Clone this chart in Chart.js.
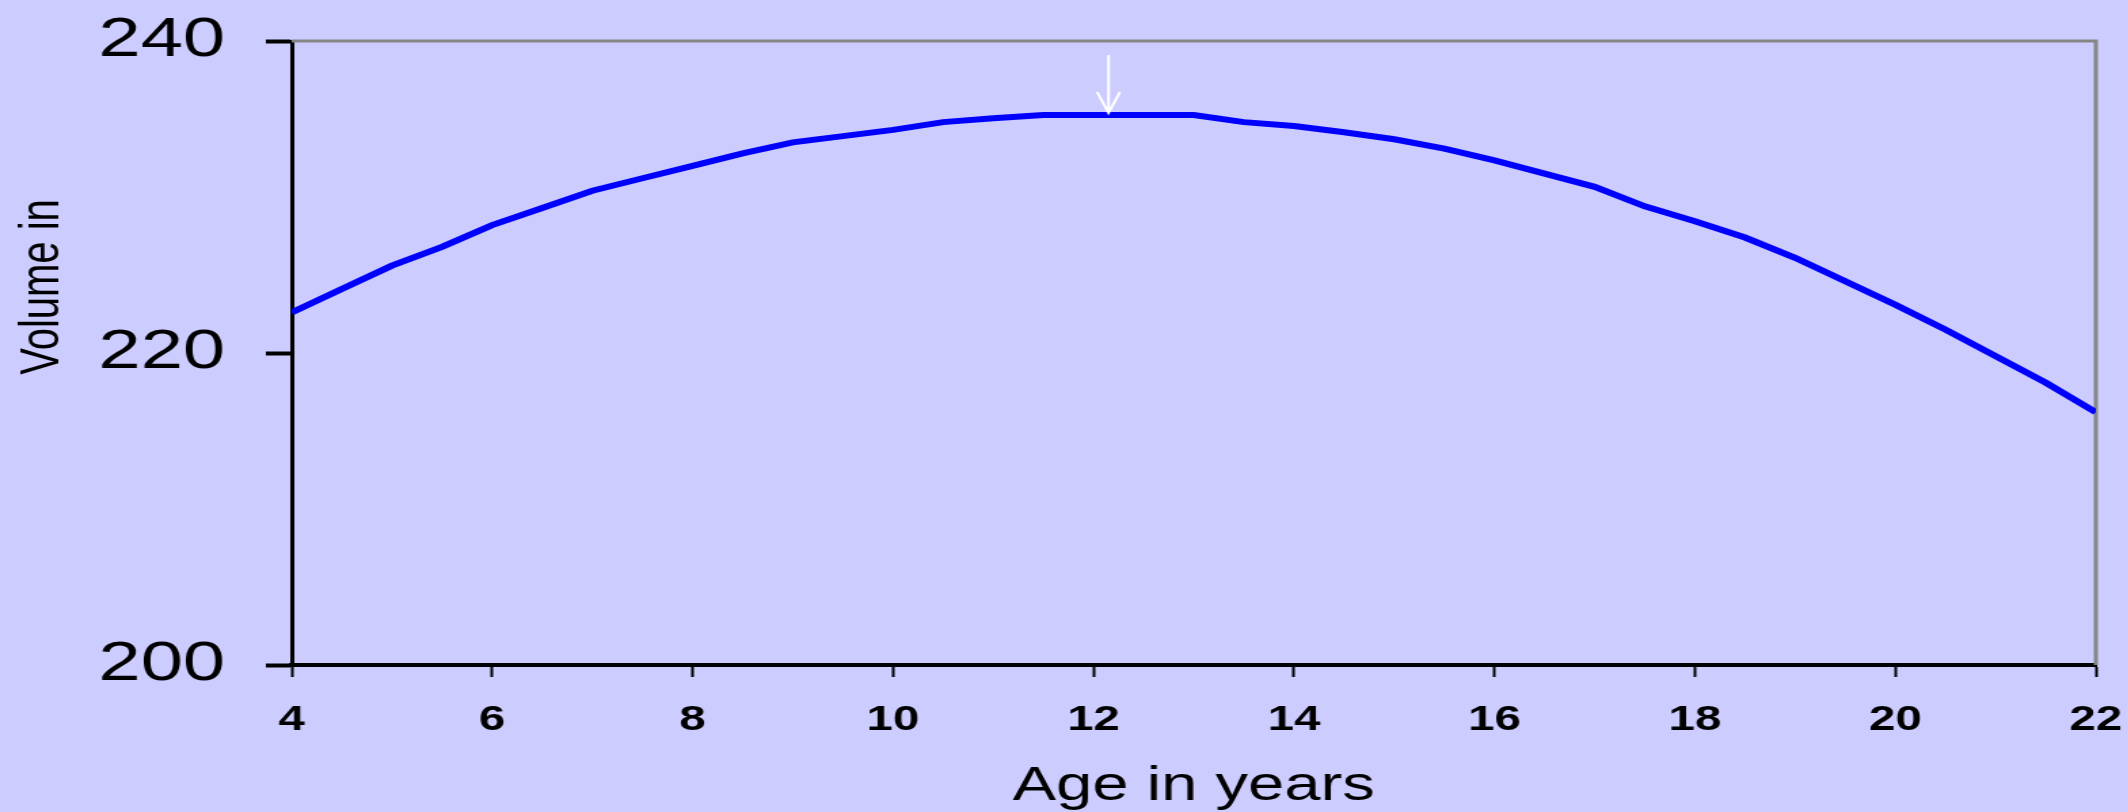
<!DOCTYPE html>
<html>
<head>
<meta charset="utf-8">
<script src="https://cdn.jsdelivr.net/npm/chart.js@4"></script>
<style>
html, body { margin: 0; padding: 0; background: #ccccff; overflow: hidden; }
#wrap { width: 1568px; height: 812px; transform: scaleX(1.35651); transform-origin: 0 0; }
</style>
</head>
<body>
<div id="wrap"><canvas id="chart" width="1568" height="812"></canvas></div>
<script>
var ages = [4, 4.5, 5, 5.5, 6, 6.5, 7, 7.5, 8, 8.5, 9, 9.5, 10, 10.5, 11, 11.5, 12, 12.5, 13,
	13.5, 14, 14.5, 15, 15.5, 16, 16.5, 17, 17.5, 18, 18.5, 19, 19.5, 20, 20.5, 21, 21.5, 22];
var volumes = [222.6, 224.1, 225.6, 226.8, 228.2, 229.3, 230.4, 231.2, 232.0, 232.8, 233.5, 233.9,
	234.3, 234.8, 235.05, 235.25, 235.25, 235.25, 235.25, 234.8, 234.55, 234.15, 233.7, 233.1,
	232.35, 231.5, 230.65, 229.4, 228.45, 227.4, 226.1, 224.6, 223.1, 221.5, 219.8, 218.1, 216.2];
var xTicks = [4, 6, 8, 10, 12, 14, 16, 18, 20, 22];
var yTicks = [200, 220, 240];
var xTitle = 'Age in years';
var yTitle = 'Volume in';
// white arrow marking the peak
var arrowAge = 12.15;
var arrowFrom = 239.1;
var arrowTo = 235.4;

var points = [];
for (var i = 0; i < ages.length; i++) {
	points.push({x: ages[i], y: volumes[i]});
}

var framePlugin = {
	id: 'frame',
	beforeDatasetsDraw: function(chart) {
		var ctx = chart.ctx;
		var a = chart.chartArea;
		ctx.save();
		ctx.strokeStyle = '#858585';
		ctx.lineWidth = 3;
		ctx.beginPath();
		ctx.moveTo(a.left, a.top);
		ctx.lineTo(a.right, a.top);
		ctx.lineTo(a.right, a.bottom);
		ctx.stroke();
		ctx.restore();
	},
	afterDatasetsDraw: function(chart) {
		var ctx = chart.ctx;
		var x = chart.scales.x.getPixelForValue(arrowAge);
		var y1 = chart.scales.y.getPixelForValue(arrowFrom);
		var y2 = chart.scales.y.getPixelForValue(arrowTo);
		ctx.save();
		ctx.strokeStyle = '#ffffff';
		ctx.lineWidth = 2;
		ctx.beginPath();
		ctx.moveTo(x, y1);
		ctx.lineTo(x, y2);
		ctx.moveTo(x - 8.5, y2 - 21);
		ctx.lineTo(x, y2);
		ctx.lineTo(x + 8.5, y2 - 21);
		ctx.stroke();

		// y title sits above the axis middle, so it is drawn here
		ctx.fillStyle = '#000000';
		ctx.font = '40px "Liberation Sans", Arial, sans-serif';
		ctx.textAlign = 'center';
		ctx.textBaseline = 'middle';
		ctx.translate(32, 287);
		ctx.rotate(-Math.PI / 2);
		ctx.fillText(yTitle, 0, 0);
		ctx.restore();
	}
};

var ctx = document.getElementById('chart').getContext('2d');
var myChart = new Chart(ctx, {
	type: 'line',
	data: {
		datasets: [{
			data: points,
			borderColor: '#0000ff',
			borderWidth: 6,
			pointRadius: 0,
			tension: 0,
			fill: false
		}]
	},
	options: {
		responsive: false,
		animation: false,
		devicePixelRatio: 1,
		layout: {padding: {left: 0, top: 41, right: 23, bottom: 0}},
		plugins: {legend: {display: false}, tooltip: {enabled: false}},
		scales: {
			x: {
				type: 'linear',
				min: xTicks[0],
				max: xTicks[xTicks.length - 1],
				afterBuildTicks: function(scale) {
					scale.ticks = xTicks.map(function(v) { return {value: v}; });
				},
				afterFit: function(scale) {
					scale.height = 147;
					scale.paddingLeft = 0;
					scale.paddingRight = 0;
				},
				border: {display: true, color: '#000000', width: 4},
				grid: {drawOnChartArea: false, drawTicks: true, tickLength: 12, tickColor: '#000000', tickWidth: 2},
				ticks: {
					color: '#000000',
					padding: 22,
					maxRotation: 0,
					autoSkip: false,
					font: {family: '"Liberation Sans", Arial, sans-serif', size: 35, weight: 'bold'}
				},
				title: {
					display: true,
					text: xTitle,
					color: '#000000',
					padding: {top: 0, bottom: 1},
					font: {family: '"Liberation Sans", Arial, sans-serif', size: 48, lineHeight: 1}
				}
			},
			y: {
				min: yTicks[0],
				max: yTicks[yTicks.length - 1],
				afterBuildTicks: function(scale) {
					scale.ticks = yTicks.map(function(v) { return {value: v}; });
				},
				afterFit: function(scale) {
					scale.width = 215;
					scale.paddingTop = 0;
					scale.paddingBottom = 0;
				},
				border: {display: true, color: '#000000', width: 3},
				grid: {drawOnChartArea: false, drawTicks: true, tickLength: 19, tickColor: '#000000', tickWidth: 4},
				ticks: {
					color: '#000000',
					padding: 30,
					autoSkip: false,
					font: {family: '"Liberation Sans", Arial, sans-serif', size: 56}
				}
			}
		}
	},
	plugins: [framePlugin]
});
</script>
</body>
</html>
